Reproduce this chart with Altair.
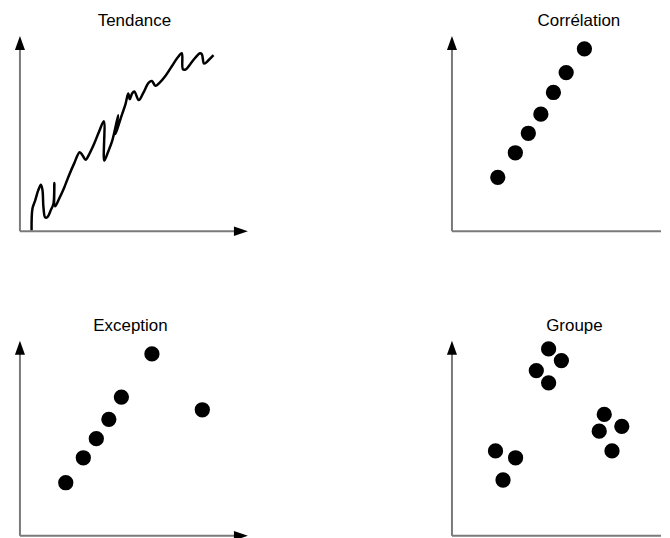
import altair as alt
import pandas as pd

# ---- data (0-100 units on each panel's axes) ----
titles = ["Tendance", "Corrélation", "Exception", "Groupe"]
title_dx = [0.5, 22.5, -3.5, 18]

trend_x = [5.1, 5.5, 6.7, 8.0, 9.2, 9.9, 10.3, 11.1, 12.1, 13.5, 14.7, 15.1, 15.4,
           17.2, 19.4, 21.5, 23.7, 26.2, 27.5, 28.8, 30.3, 32.5, 34.6, 36.8, 37.0,
           38.6, 40.5, 43.1, 41.9, 44.1, 46.3, 47.5, 48.2, 49.2, 50.2, 52.1, 54.0,
           56.5, 57.9, 59.4, 61.3, 63.8, 66.7, 69.1, 71.0, 71.5, 72.8, 74.7, 76.9,
           79.0, 79.8, 80.8, 82.7, 84.9]
trend_y = [0.5, 11.6, 15.8, 20.9, 23.8, 20.9, 12.4, 7.0, 7.3, 10.7, 14.1, 24.7, 12.8,
           16.7, 22.3, 28.6, 34.5, 40.5, 38.8, 36.6, 39.3, 44.7, 50.7, 56.3, 36.2,
           40.5, 46.4, 59.5, 49.8, 57.5, 65.1, 70.6, 67.7, 70.6, 71.6, 67.2, 70.6,
           76.2, 77.0, 74.5, 76.2, 79.6, 84.7, 88.9, 91.2, 83.0, 83.0, 85.6, 88.9,
           91.2, 90.7, 85.9, 87.6, 90.2]

corr_x = [20.1, 27.8, 33.5, 39.0, 44.5, 50.1, 58.1]
corr_y = [27.6, 40.2, 50.2, 60.0, 71.1, 81.3, 93.5]

exc_x = [20.1, 27.8, 33.5, 39.0, 44.5, 57.9, 80.0]
exc_y = [27.2, 40.0, 49.8, 59.7, 71.1, 93.2, 64.6]

grp_x = [42.4, 48.0, 37.0, 42.4, 66.8, 74.5, 64.6, 70.2, 19.1, 27.9, 22.4]
grp_y = [95.8, 89.8, 84.7, 78.4, 62.2, 56.1, 53.6, 43.5, 43.5, 40.0, 28.6]

axis_max = 100          # arrow tips
axis_line_end = 95      # where the grey axis line stops under the arrow head
visible_x_max = 91.7    # right-hand panels are cut by the page edge

# ---- styling ----
W, H = 229, 196
W_RIGHT = 210
FONT = "Liberation Sans"
UP = "M0,0L-0.36,1L0.36,1Z"
RIGHT = "M0,0L-1,-0.34L-1,0.34Z"
AXIS_COLOR = "#7a7a7a"

ys = alt.Scale(domain=[0, axis_max], nice=False, zero=False)


def make_x(xmax):
    xs = alt.Scale(domain=[0, xmax], nice=False, zero=False)

    def X(f):
        return alt.X(f, type="quantitative", scale=xs, axis=None)
    return X


def Y(f):
    return alt.Y(f, type="quantitative", scale=ys, axis=None)


def axes(X, xmax):
    layers = []
    layers.append(alt.Chart(pd.DataFrame({"x": [0], "y": [0], "y2": [axis_line_end]})).mark_rule(
        color=AXIS_COLOR, strokeWidth=2).encode(x=X("x"), y=Y("y"), y2="y2"))
    layers.append(alt.Chart(pd.DataFrame({"x": [0], "x2": [min(axis_line_end, xmax)], "y": [0]})).mark_rule(
        color=AXIS_COLOR, strokeWidth=2).encode(x=X("x"), x2="x2", y=Y("y")))
    layers.append(alt.Chart(pd.DataFrame({"x": [0], "y": [axis_max]})).mark_point(
        shape=UP, size=784, filled=True, color="black", opacity=1, strokeWidth=0
    ).encode(x=X("x"), y=Y("y")))
    if xmax >= axis_max:
        layers.append(alt.Chart(pd.DataFrame({"x": [axis_max], "y": [0]})).mark_point(
            shape=RIGHT, size=784, filled=True, color="black", opacity=1, strokeWidth=0
        ).encode(x=X("x"), y=Y("y")))
    return layers


def scatter(X, xv, yv):
    df = pd.DataFrame({"x": xv, "y": yv})
    return alt.Chart(df).mark_circle(size=235, color="black", opacity=1).encode(
        x=X("x"), y=Y("y"))


def panel(i, X, xmax, width, layers):
    return alt.layer(*axes(X, xmax), *layers).properties(
        width=width, height=H,
        title=alt.TitleParams(titles[i], dx=title_dx[i], frame="group", anchor="middle"),
    )


XL = make_x(axis_max)
XR = make_x(visible_x_max)

trend_df = pd.DataFrame({"x": trend_x, "y": trend_y, "i": list(range(len(trend_x)))})
trend = alt.Chart(trend_df).mark_line(
    color="black", strokeWidth=2.5, interpolate="catmull-rom"
).encode(x=XL("x"), y=Y("y"), order=alt.Order("i:Q"))

p1 = panel(0, XL, axis_max, W, [trend])
p2 = panel(1, XR, visible_x_max, W_RIGHT, [scatter(XR, corr_x, corr_y)])
p3 = panel(2, XL, axis_max, W, [scatter(XL, exc_x, exc_y)])
p4 = panel(3, XR, visible_x_max, W_RIGHT, [scatter(XR, grp_x, grp_y)])

chart = alt.vconcat(
    alt.hconcat(p1, p2, spacing=199),
    alt.hconcat(p3, p4, spacing=199),
    spacing=81,
).configure_view(strokeWidth=0).configure_title(
    font=FONT, fontSize=17, fontWeight="normal", color="black", offset=6
).configure_concat(spacing=0).properties(padding={"left": 6, "top": 3, "right": 0, "bottom": 0})

chart.save("out.html", embed_options={"renderer": "svg", "actions": False})
